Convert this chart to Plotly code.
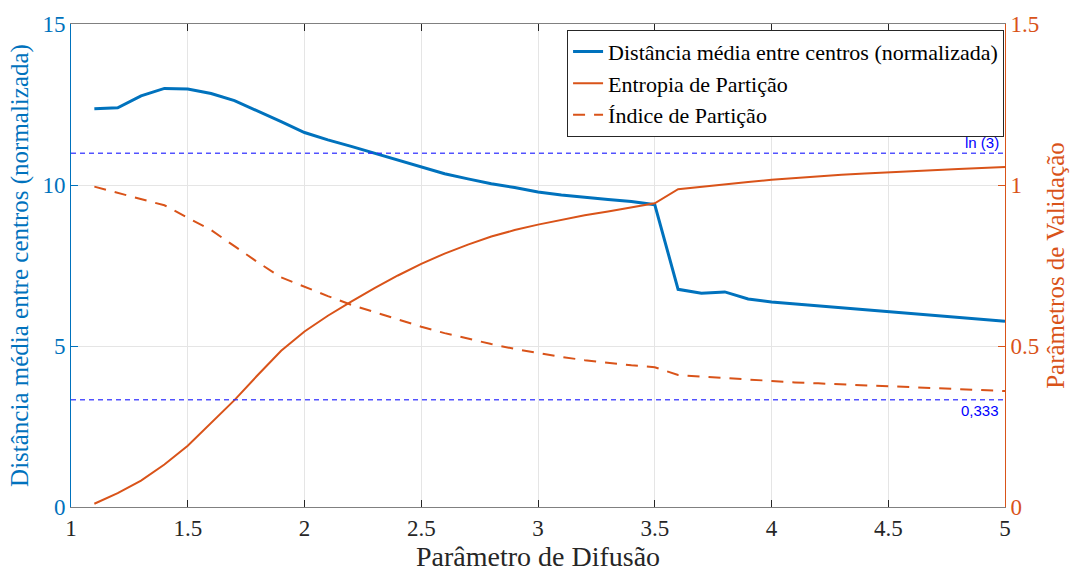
import plotly.graph_objects as go

# Parâmetro de difusão (m)
difusao = [1.1, 1.2, 1.3, 1.4, 1.5, 1.6, 1.7, 1.8, 1.9, 2.0,
           2.1, 2.2, 2.3, 2.4, 2.5, 2.6, 2.7, 2.8, 2.9, 3.0,
           3.1, 3.2, 3.3, 3.4, 3.5, 3.6, 3.7, 3.8, 3.9, 4.0,
           4.1, 4.2, 4.3, 4.4, 4.5, 4.6, 4.7, 4.8, 4.9, 5.0]

# Distância média entre centros (normalizada) - eixo esquerdo
distancia = [12.37, 12.40, 12.77, 13.00, 12.98, 12.84, 12.62, 12.30, 11.97, 11.63,
             11.40, 11.20, 10.99, 10.77, 10.56, 10.35, 10.19, 10.04, 9.92, 9.78,
             9.69, 9.61, 9.55, 9.49, 9.39, 6.76, 6.64, 6.68, 6.46, 6.37,
             6.31, 6.25, 6.19, 6.13, 6.07, 6.01, 5.95, 5.89, 5.83, 5.77]

# Entropia de partição - eixo direito
entropia = [0.010, 0.043, 0.082, 0.132, 0.190, 0.260, 0.332, 0.410, 0.485, 0.545,
            0.594, 0.638, 0.680, 0.719, 0.755, 0.787, 0.815, 0.840, 0.860, 0.877,
            0.892, 0.906, 0.918, 0.930, 0.943, 0.987, 0.995, 1.002, 1.009, 1.016,
            1.022, 1.027, 1.032, 1.036, 1.040, 1.044, 1.047, 1.050, 1.053, 1.056]

# Índice de partição - eixo direito
indice = [0.995, 0.976, 0.958, 0.937, 0.898, 0.860, 0.810, 0.760, 0.713, 0.683,
          0.655, 0.628, 0.605, 0.582, 0.560, 0.540, 0.522, 0.506, 0.491, 0.478,
          0.466, 0.456, 0.447, 0.440, 0.434, 0.410, 0.405, 0.400, 0.395, 0.391,
          0.387, 0.384, 0.381, 0.378, 0.375, 0.372, 0.369, 0.366, 0.363, 0.360]

# Linhas de referência (eixo direito)
ref_valores = [1.0986, 0.333]
ref_rotulos = ["ln (3)", "0,333"]

x_ticks = [1, 1.5, 2, 2.5, 3, 3.5, 4, 4.5, 5]
x_ticktext = ["1", "1.5", "2", "2.5", "3", "3.5", "4", "4.5", "5"]
y1_ticks = [0, 5, 10, 15]
y2_ticks = [0, 0.5, 1, 1.5]
y2_ticktext = ["0", "0.5", "1", "1.5"]

AZUL = "#0072BD"
LARANJA = "#D95319"
SERIF = "Liberation Serif"

fig = go.Figure()

fig.add_trace(go.Scatter(
    x=difusao, y=distancia, mode="lines",
    name="Distância média entre centros (normalizada)",
    line=dict(color=AZUL, width=3), yaxis="y"))

fig.add_trace(go.Scatter(
    x=difusao, y=entropia, mode="lines",
    name="Entropia de Partição",
    line=dict(color=LARANJA, width=2), yaxis="y2"))

fig.add_trace(go.Scatter(
    x=difusao, y=indice, mode="lines",
    name="Índice de Partição",
    line=dict(color=LARANJA, width=2, dash="12px,9px"), yaxis="y2"))

for val, rot, pos in zip(ref_valores, ref_rotulos, ["top", "bottom"]):
    fig.add_shape(type="line", xref="paper", x0=0, x1=1, yref="y2", y0=val, y1=val,
                  line=dict(color="rgba(40,40,255,0.8)", width=1.5, dash="5px,4px"))
    fig.add_annotation(xref="paper", x=0.996, yref="y2", y=val, text=rot,
                       showarrow=False, xanchor="right",
                       yanchor="bottom" if pos == "top" else "top",
                       yshift=0 if pos == "top" else 0,
                       font=dict(family="Liberation Sans", size=15, color="#0000FF"))

fig.update_layout(
    width=1077, height=574,
    margin=dict(l=71, r=72, t=19, b=63),
    paper_bgcolor="white", plot_bgcolor="white",
    font=dict(family=SERIF, size=22, color="#262626"),
    showlegend=True,
    legend=dict(x=0.999, y=0.988, xanchor="right", yanchor="top",
                bgcolor="white", bordercolor="#262626", borderwidth=1,
                font=dict(family=SERIF, size=22, color="#000000"),
                tracegroupgap=0, itemwidth=30),
    xaxis=dict(range=[1, 5], tickvals=x_ticks, ticktext=x_ticktext,
               showgrid=True, gridcolor="#e5e5e5", gridwidth=1,
               zeroline=False, showline=True, linecolor="#808080", linewidth=1,
               mirror="ticks", ticks="inside", ticklen=7, tickcolor="#262626",
               tickfont=dict(family=SERIF, size=23, color="#262626"),
               title=dict(text="Parâmetro de Difusão",
                          font=dict(family=SERIF, size=28, color="#262626"),
                          standoff=2)),
    yaxis=dict(range=[0, 15], tickvals=y1_ticks,
               showgrid=True, gridcolor="#e5e5e5", gridwidth=1,
               zeroline=False, showline=True, linecolor=AZUL, linewidth=1,
               ticks="inside", ticklen=7, tickcolor=AZUL,
               tickfont=dict(family=SERIF, size=23, color=AZUL),
               title=dict(text="Distância média entre centros (normalizada)",
                          font=dict(family=SERIF, size=25, color=AZUL),
                          standoff=6)),
    yaxis2=dict(range=[0, 1.5], tickvals=y2_ticks, ticktext=y2_ticktext,
                overlaying="y", side="right", showgrid=False,
                zeroline=False, showline=True, linecolor=LARANJA, linewidth=1,
                ticks="inside", ticklen=7, tickcolor=LARANJA,
                tickfont=dict(family=SERIF, size=23, color=LARANJA),
                title=dict(text="Parâmetros de Validação",
                           font=dict(family=SERIF, size=25, color=LARANJA),
                           standoff=8)),
)

fig.write_html("out.html")
